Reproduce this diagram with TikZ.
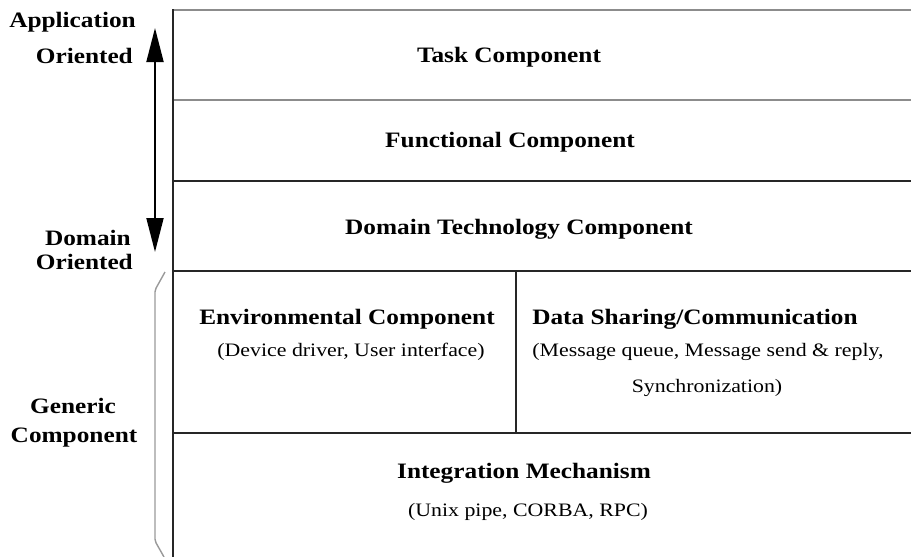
\documentclass[tikz,border=0pt]{standalone}
\usepackage{fontspec}
\setmainfont{Liberation Serif}[FakeStretch=1.15]
\usetikzlibrary{arrows.meta}
\begin{document}
\begin{tikzpicture}[x=1pt,y=-1pt,
  title/.style={font=\fontsize{22}{26}\selectfont\bfseries, anchor=base, inner sep=0pt},
  sub/.style={font=\fontsize{19}{23}\selectfont, anchor=base, inner sep=0pt},
  side/.style={font=\fontsize{22}{26}\selectfont\bfseries, inner sep=0pt},
  darkline/.style={line width=1.6pt, draw=black!85},
  grayline/.style={line width=2.4pt, draw=black!45},
  bracket/.style={line width=1.4pt, draw=black!40, rounded corners=2pt},
  biarrow/.style={line width=1.8pt, {Triangle[length=34pt,width=17pt]}-{Triangle[length=34pt,width=17pt]}}
]
\useasboundingbox (0,0) rectangle (911,557);
% frame
\draw[grayline] (173,10) -- (911,10);
\draw[grayline] (173,100) -- (911,100);
\draw[darkline] (173,181) -- (911,181);
\draw[darkline] (173,271) -- (911,271);
\draw[darkline] (173,433) -- (911,433);
\draw[darkline] (173,9) -- (173,557);
\draw[darkline] (516,271) -- (516,433);
% arrow
\coordinate (atop) at (155,28);
\coordinate (abot) at (155,252);
\draw[biarrow] (atop) -- (abot);
% bracket
\draw[bracket] (165,272) -- (155,290) -- (155,541) -- (164,557);
% side labels
\node[side, anchor=base east] (app) at (136,27) {Application};
\node[side, anchor=base east] (ori1) at (133,63) {Oriented};
\node[side, anchor=base east] (dom) at (131,245) {Domain};
\node[side, anchor=base east] (ori2) at (133,269) {Oriented};
\node[side, anchor=base] (gen) at (73,413) {Generic};
\node[side, anchor=base] (genc) at (74,442) {Component};
% layers
\node[title] (task) at (509,62) {Task Component};
\node[title] (func) at (510,147) {Functional Component};
\node[title] (domt) at (519,234) {Domain Technology Component};
\node[title] (env) at (347,324) {Environmental Component};
\node[sub] (envs) at (351,356) {(Device driver, User interface)};
\node[title] (data) at (695,324) {Data Sharing/Communication};
\node[sub] (datas) at (708,356) {(Message queue, Message send \& reply,};
\node[sub] (datas2) at (707,392) {Synchronization)};
\node[title] (integ) at (524,478) {Integration Mechanism};
\node[sub] (integs) at (528,516) {(Unix pipe, CORBA, RPC)};
\end{tikzpicture}
\end{document}
